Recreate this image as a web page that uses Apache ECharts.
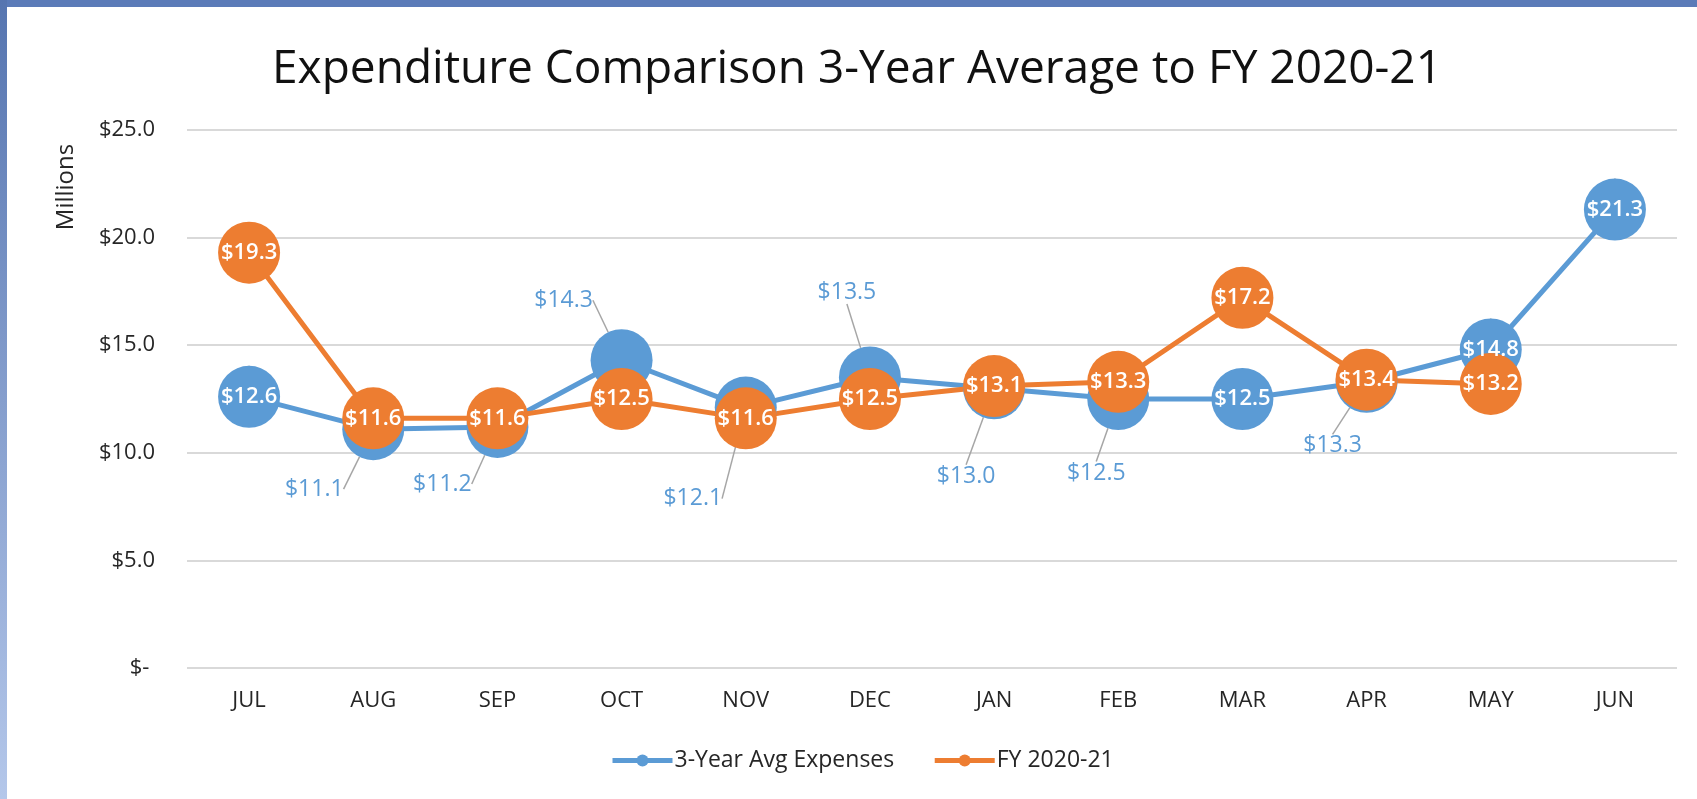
<!DOCTYPE html>
<html><head><meta charset="utf-8">
<script src="https://cdn.jsdelivr.net/npm/echarts@6/dist/echarts.min.js"></script>
<style>html,body{margin:0;padding:0;background:#fff}#c{width:1697px;height:799px}</style>
</head><body><div id="c"></div>
<script>
const months = ['JUL','AUG','SEP','OCT','NOV','DEC','JAN','FEB','MAR','APR','MAY','JUN'];
const avgExpenses = [12.6, 11.1, 11.2, 14.3, 12.1, 13.5, 13.0, 12.5, 12.5, 13.3, 14.8, 21.3];
const fy2021 = [19.3, 11.6, 11.6, 12.5, 11.6, 12.5, 13.1, 13.3, 17.2, 13.4, 13.2, null];
const yMin = 0, yMax = 25, yStep = 5;
const seriesNames = ['3-Year Avg Expenses', 'FY 2020-21'];
// pixel shifts for the 3-year labels that sit outside their markers (with leader lines)
const avgLabelShift = [null, [-59,60], [-55,57], [-58,-60], [-53,91], [-23,-85], [-28,88], [-22,74], null, [-34,64], null, null];

const BLUE = '#5b9bd5', ORANGE = '#ed7d31', FONT = 'Open Sans';
const fmt = v => '$' + Number(v).toFixed(1);

const chart = echarts.init(document.getElementById('c'), null, {renderer: 'canvas'});
chart.setOption({
  animation: false,
  backgroundColor: '#ffffff',
  textStyle: {fontFamily: FONT},
  title: {
    text: 'Expenditure Comparison 3-Year Average to FY 2020-21',
    left: 852, top: 42, textAlign: 'center',
    textStyle: {fontFamily: FONT, fontSize: 46, fontWeight: 'normal', color: '#111'}
  },
  legend: {
    bottom: 22, left: 605,
    itemWidth: 60, itemHeight: 15, itemGap: 38,
    lineStyle: {width: 5},
    textStyle: {fontFamily: FONT, fontSize: 23, color: '#262626', padding: [0, 0, 0, -3]},
    data: seriesNames
  },
  grid: {left: 187, right: 20, top: 130, bottom: 131, containLabel: false},
  xAxis: {
    type: 'category', data: months, boundaryGap: true,
    axisLine: {show: false}, axisTick: {show: false},
    axisLabel: {margin: 22, fontFamily: FONT, fontSize: 22, color: '#262626'}
  },
  yAxis: {
    type: 'value', min: yMin, max: yMax, interval: yStep,
    axisLine: {show: false}, axisTick: {show: false},
    splitLine: {lineStyle: {color: '#d9d9d9', width: 2}},
    axisLabel: {margin: 32, fontFamily: FONT, fontSize: 22, color: '#262626',
      formatter: v => v === 0 ? '$- ' : fmt(v)}
  },
  graphic: [
    {type: 'rect', shape: {x: 0, y: 0, width: 1697, height: 7}, style: {fill: '#5b7bb8'}, z: 100},
    {type: 'rect', shape: {x: 0, y: 0, width: 7, height: 799},
      style: {fill: new echarts.graphic.LinearGradient(0, 0, 0, 1, [
        {offset: 0, color: '#5675b0'}, {offset: 1, color: '#b4c7ea'}])}, z: 100},
    {type: 'text', x: 66, y: 187, rotation: Math.PI / 2,
      style: {text: 'Millions', font: '24px "Open Sans"', fill: '#262626',
        textAlign: 'center', textVerticalAlign: 'middle'}}
  ],
  series: [
    {
      name: seriesNames[0], type: 'line', color: BLUE,
      symbol: 'circle', symbolSize: 62, showAllSymbol: true,
      lineStyle: {width: 5, color: BLUE}, itemStyle: {color: BLUE},
      emphasis: {disabled: true},
      label: {show: true, position: 'inside', formatter: p => fmt(p.value),
        fontFamily: FONT, fontSize: 22, fontWeight: 600, color: '#fff'},
      labelLine: {show: true, lineStyle: {color: '#a6a6a6', width: 1.5}},
      labelLayout: p => {
        const s = avgLabelShift[p.dataIndex];
        return s ? {dx: s[0], dy: s[1]} : {};
      },
      data: avgExpenses.map((v, i) => avgLabelShift[i]
        ? {value: v, label: {color: BLUE, fontWeight: 'normal', fontSize: 23}}
        : {value: v})
    },
    {
      name: seriesNames[1], type: 'line', color: ORANGE,
      symbol: 'circle', symbolSize: 62, showAllSymbol: true,
      lineStyle: {width: 5, color: ORANGE}, itemStyle: {color: ORANGE},
      emphasis: {disabled: true},
      label: {show: true, position: 'inside', formatter: p => fmt(p.value),
        fontFamily: FONT, fontSize: 22, fontWeight: 600, color: '#fff'},
      data: fy2021
    }
  ]
});
</script></body></html>
